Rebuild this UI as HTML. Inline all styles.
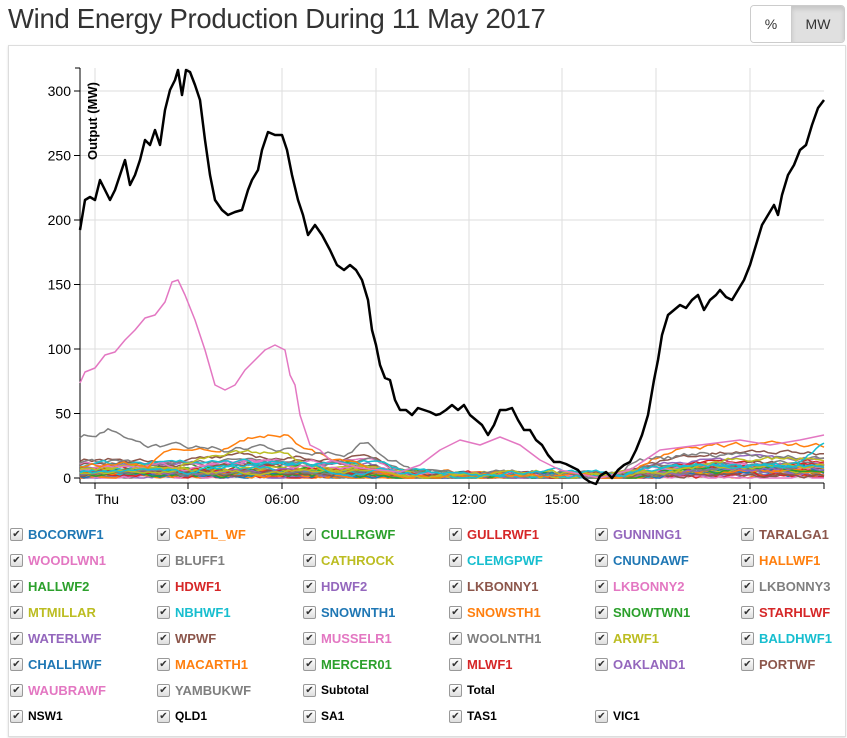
<!DOCTYPE html>
<html><head><meta charset="utf-8"><style>
body{margin:0;background:#fff;font-family:"Liberation Sans",sans-serif;width:847px;height:738px;overflow:hidden;position:relative}
h1{position:absolute;left:8px;top:3px;margin:0;font-weight:normal;font-size:27.5px;color:#333;letter-spacing:-0.3px}
.btns{position:absolute;left:750px;top:5px;height:36px;border:1px solid #ccc;border-radius:4px;display:flex;overflow:hidden;font-size:14px;color:#333}
.btns div{display:flex;align-items:center;justify-content:center}
.panel{position:absolute;left:8px;top:45px;width:836px;height:690px;border:1px solid #ddd;box-shadow:0 1px 2px #ddd}
.lg{position:absolute;font-size:13px;font-weight:bold;white-space:nowrap}
.cb{position:absolute;width:11px;height:11px;border:1px solid #999;border-radius:2px;background:linear-gradient(#fff,#ddd);font-size:10px;line-height:11px;text-align:center;color:#333}
</style></head><body>
<h1>Wind Energy Production During 11 May 2017</h1>
<div class="btns"><div style="width:40px;background:#fff">%</div><div style="width:52px;background:#e0e0e0;border-left:1px solid #ccc;box-shadow:inset 0 3px 5px rgba(0,0,0,.12)">MW</div></div>
<div class="panel"></div>
<svg id="c" width="847" height="738" style="position:absolute;left:0;top:0" font-family="Liberation Sans, sans-serif"></svg>
<div id="leg"></div>
<script>
var s=document.getElementById('c'),h='';
var X0=80,X1=824;
var gx=[95,188,282,376,469,562,656,750];
gx.forEach(function(x){h+='<line x1="'+x+'" y1="68" x2="'+x+'" y2="483" stroke="#ddd"/>';});
[0,50,100,150,200,250,300].forEach(function(v){var y=478-v*1.29;h+='<line x1="'+X0+'" y1="'+y+'" x2="'+X1+'" y2="'+y+'" stroke="#ddd"/><line x1="74" y1="'+y+'" x2="80" y2="'+y+'" stroke="#000"/><text x="71" y="'+(y+5)+'" font-size="14" text-anchor="end" fill="#000">'+v+'</text>';});
var labs=['Thu','03:00','06:00','09:00','12:00','15:00','18:00','21:00'];
gx.forEach(function(x,i){h+='<line x1="'+x+'" y1="483" x2="'+x+'" y2="489" stroke="#000"/><text x="'+(i==0?x+12:x)+'" y="504" font-size="14" text-anchor="middle">'+labs[i]+'</text>';});
h+='<line x1="80" y1="68" x2="80" y2="483" stroke="#000"/><line x1="75" y1="68" x2="80" y2="68" stroke="#000"/><line x1="80" y1="483" x2="824" y2="483" stroke="#000"/><line x1="824" y1="483" x2="824" y2="489" stroke="#000"/>';
h+='<text transform="translate(97,160) rotate(-90)" font-size="13" font-weight="bold" text-anchor="start">Output (MW)</text>';
var seed=7;function r(){seed=(seed*16807)%2147483647;return seed/2147483647;}
var cols=['#1f77b4','#ff7f0e','#2ca02c','#d62728','#9467bd','#8c564b','#e377c2','#7f7f7f','#bcbd22','#17becf'];
function walk(c,base,amp,seg){var p='',v=base;for(var x=X0;x<=X1;x+=4){var b=base;seg.forEach(function(s){if(x>=s[0]&&x<=s[1])b=s[2];});v+= (b-v)*0.15+(r()-0.5)*amp;if(v<0)v=0;p+=x+','+(478-v*1.29).toFixed(1)+' ';}h+='<polyline points="'+p+'" fill="none" stroke="'+c+'" stroke-width="1.5"/>';}
for(var i=0;i<40;i++){var c=cols[i%10];var b=r()*r()*14;walk(c,b,3,[[80,380,b+2],[380,620,r()*3],[660,824,b+r()*8]]);}
walk('#ff7f0e',10,3,[[150,230,25],[230,290,35],[300,360,10],[360,620,2],[640,824,25]]);
walk('#7f7f7f',30,4,[[80,110,40],[110,350,22],[350,370,40],[370,620,3],[640,824,18]]);
walk('#bcbd22',8,3,[[180,290,20],[300,620,3],[680,824,15]]);
walk('#17becf',5,3,[[200,300,12],[640,800,10],[800,824,35]]);
function pl(pts,c,w){h+='<polyline points="'+pts+'" fill="none" stroke="'+c+'" stroke-width="'+w+'" stroke-linejoin="round"/>';}
pl('80,383 85,372 95,368 105,355 115,352 125,340 135,330 145,318 155,315 165,302 172,282 178,280 185,295 195,320 205,350 215,385 225,390 235,385 245,370 255,360 265,350 275,345 285,350 290,375 295,385 300,415 305,430 310,445 320,450 330,460 360,468 400,472 420,465 440,450 460,440 480,445 500,437 520,445 540,460 560,470 600,478 630,470 660,450 700,445 740,440 770,445 800,440 824,435','#e377c2',1.5);
pl('80,230 85,200 90,197 95,200 100,180 105,190 110,200 115,190 120,175 125,160 130,185 135,175 140,160 145,140 150,145 155,130 160,145 165,110 170,90 175,80 178,70 182,95 186,70 190,72 195,85 200,100 205,140 210,175 215,200 222,210 228,215 235,212 242,210 248,190 252,180 258,170 262,150 268,132 275,135 282,135 287,150 292,175 298,200 303,215 308,235 315,225 322,235 330,250 337,265 344,270 350,265 356,270 362,280 368,300 372,330 376,345 380,365 385,378 390,380 395,400 400,410 406,410 412,415 418,408 424,410 430,412 436,415 440,414 446,410 452,405 458,410 464,405 470,415 476,420 482,425 488,435 494,425 500,410 506,410 512,408 518,420 524,430 530,430 536,440 542,445 548,455 554,462 560,462 566,464 572,467 578,470 584,478 590,482 596,484 600,476 606,472 612,478 618,470 624,465 630,462 636,450 642,435 648,415 654,380 658,360 662,335 668,315 674,310 680,305 686,308 692,300 698,295 704,310 710,300 716,295 720,290 726,297 732,300 738,290 744,280 750,265 756,245 762,225 768,215 774,205 778,215 782,195 788,175 794,165 800,150 806,145 812,125 818,108 824,100','#000',2.5);
s.innerHTML=h;
var names=['BOCORWF1','CAPTL_WF','CULLRGWF','GULLRWF1','GUNNING1','TARALGA1','WOODLWN1','BLUFF1','CATHROCK','CLEMGPWF','CNUNDAWF','HALLWF1','HALLWF2','HDWF1','HDWF2','LKBONNY1','LKBONNY2','LKBONNY3','MTMILLAR','NBHWF1','SNOWNTH1','SNOWSTH1','SNOWTWN1','STARHLWF','WATERLWF','WPWF','MUSSELR1','WOOLNTH1','ARWF1','BALDHWF1','CHALLHWF','MACARTH1','MERCER01','MLWF1','OAKLAND1','PORTWF','WAUBRAWF','YAMBUKWF'];
var items=names.map(function(n,i){return [n,cols[i%10]];});
items.push(['Subtotal','#000'],['Total','#000'],null,null,['NSW1','#000'],['QLD1','#000'],['SA1','#000'],['TAS1','#000'],['VIC1','#000']);
var lh='',cx=[10,157,303,449,595,741];
items.forEach(function(it,i){if(!it)return;var x=cx[i%6],y=528+Math.floor(i/6)*26;lh+='<div class="cb" style="left:'+x+'px;top:'+y+'px">✔</div><div class="lg" style="left:'+(x+18)+'px;top:'+(y-1)+'px;color:'+it[1]+';'+(it[1]=='#000'?'font-size:12px':'')+'">'+it[0]+'</div>';});
document.getElementById('leg').innerHTML=lh;
</script>
</body></html>
